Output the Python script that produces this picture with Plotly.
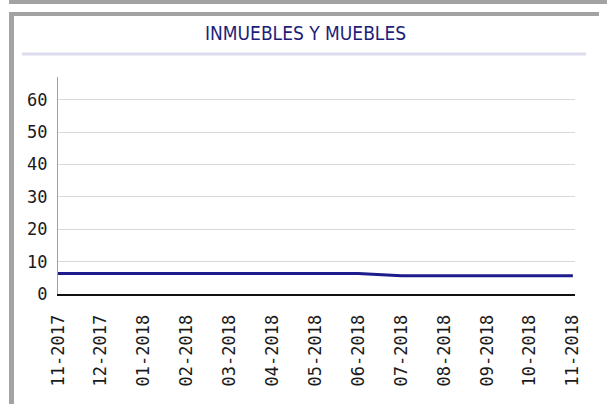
import plotly.graph_objects as go

# Monthly series
months = ["11-2017", "12-2017", "01-2018", "02-2018", "03-2018", "04-2018",
          "05-2018", "06-2018", "07-2018", "08-2018", "09-2018", "10-2018", "11-2018"]
values = [6.3, 6.3, 6.3, 6.3, 6.3, 6.3, 6.3, 6.3, 5.6, 5.6, 5.6, 5.6, 5.6]
y_ticks = [0, 10, 20, 30, 40, 50, 60]
title_text = "INMUEBLES Y MUEBLES"

W, H = 607, 404
L, R, T, B = 58, 32, 77, 110
PW, PH = W - L - R, H - T - B


def px(x):
    return (x - L) / PW


def py(y):
    return (H - B - y) / PH


fig = go.Figure()
fig.add_trace(go.Scatter(
    x=list(range(len(months))), y=values, mode="lines",
    line=dict(color="#1c1c8c", width=3),
    hoverinfo="skip", showlegend=False,
))

border = "#a3a3a3"
shapes = [
    # top strip
    dict(type="rect", xref="paper", yref="paper", x0=px(9), x1=px(607), y0=py(0), y1=py(4),
         fillcolor=border, line_width=0, layer="above"),
    # frame top edge
    dict(type="rect", xref="paper", yref="paper", x0=px(9), x1=px(599), y0=py(12), y1=py(16),
         fillcolor=border, line_width=0, layer="above"),
    # frame left edge
    dict(type="rect", xref="paper", yref="paper", x0=px(9), x1=px(14), y0=py(12), y1=py(404),
         fillcolor=border, line_width=0, layer="above"),
    # rule under the title
    dict(type="line", xref="paper", yref="paper", x0=px(22), x1=px(586), y0=py(54), y1=py(54),
         line=dict(color="#dcdcee", width=3), layer="above"),
]

fig.update_layout(
    width=W, height=H,
    margin=dict(l=L, r=R, t=T, b=B, pad=0),
    paper_bgcolor="white", plot_bgcolor="white",
    shapes=shapes,
    annotations=[dict(
        text=title_text, xref="paper", yref="paper", x=px(305), y=py(33),
        xanchor="center", yanchor="middle", showarrow=False,
        font=dict(family="DejaVu Sans Condensed, DejaVu Sans", size=19, color="#1e1e7a"),
    )],
    xaxis=dict(
        range=[0, 12.05], tickmode="array", tickvals=list(range(len(months))), ticktext=months,
        tickangle=-90, showgrid=False, zeroline=False,
        showline=True, linecolor="#111111", linewidth=2,
        ticks="", ticklabelstandoff=12,
        tickfont=dict(family="DejaVu Sans Mono", size=17, color="#1a1a1a"),
    ),
    yaxis=dict(
        range=[0, 67], tickmode="array", tickvals=y_ticks,
        showgrid=True, gridcolor="#d9d9d9", gridwidth=1, zeroline=False,
        showline=True, linecolor="#9a9acc", linewidth=1,
        ticks="", ticklabelstandoff=6,
        tickfont=dict(family="DejaVu Sans Mono", size=17, color="#1a1a1a"),
    ),
)

fig.write_html("out.html")
